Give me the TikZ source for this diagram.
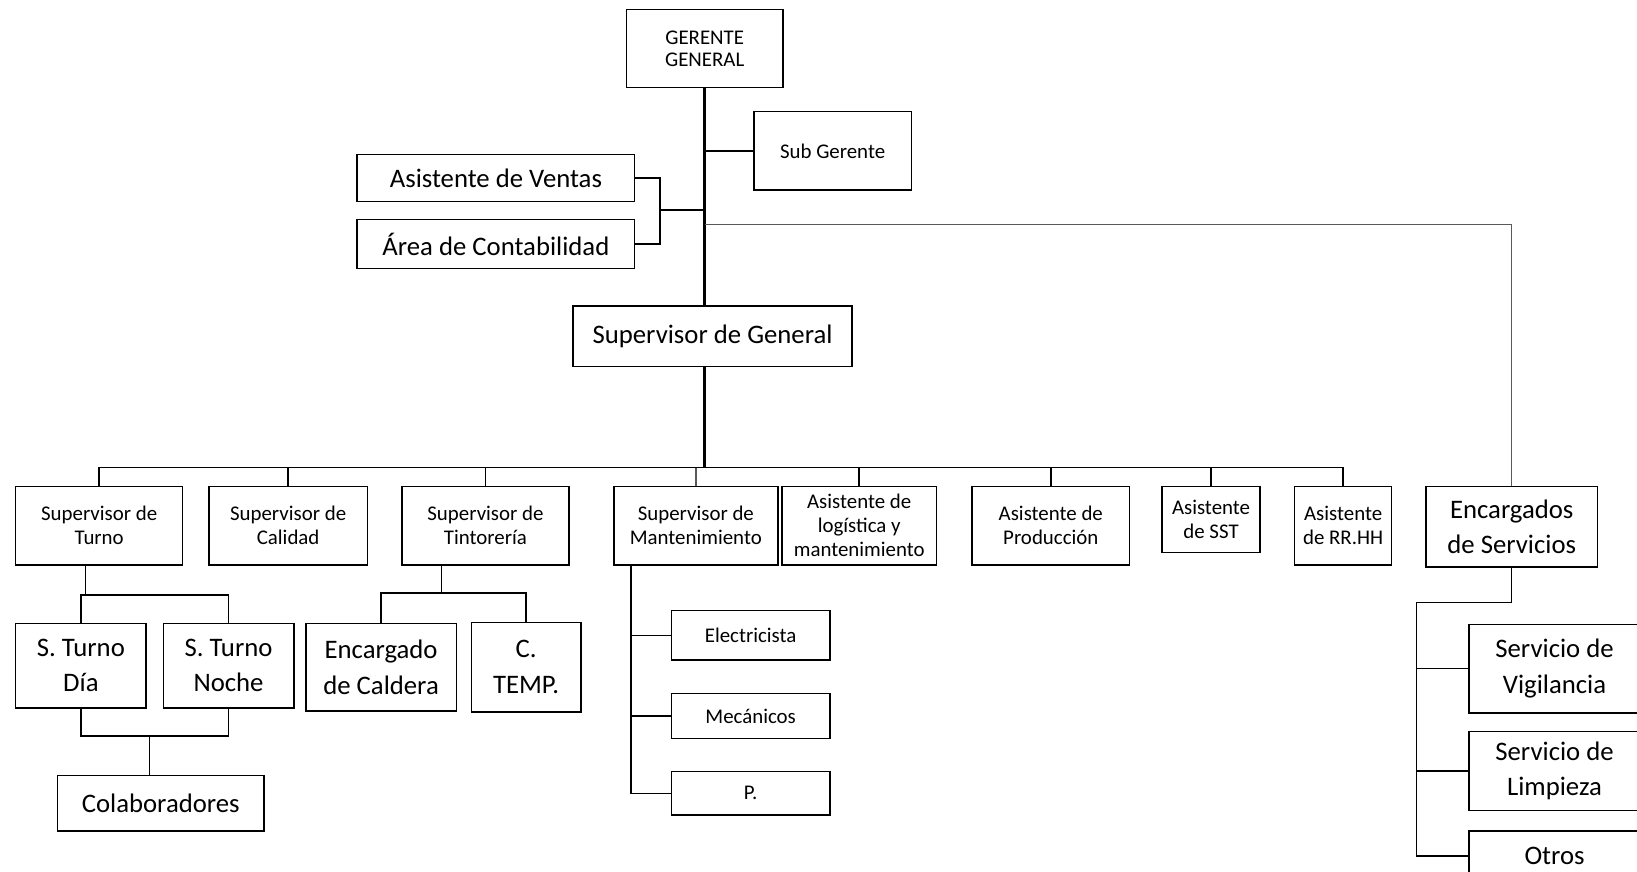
\documentclass[tikz,border=0pt]{standalone}
\usepackage{fontspec}
\setmainfont{Carlito}
\usetikzlibrary{positioning}

\begin{document}
\begin{tikzpicture}[
  x=0.5pt, y=-0.5pt,
  box/.style={rectangle, draw, line width=0.7pt, align=center, inner sep=2pt},
  big/.style={font=\fontsize{12.8}{17}\selectfont},
  small/.style={font=\fontsize{10}{11.5}\selectfont},
  link/.style={draw, line width=0.7pt},
  linkgray/.style={draw=black!65, line width=0.7pt},
  trunk/.style={draw, line width=1.6pt}
]
\useasboundingbox (0,0) rectangle (1568,835);
\clip (0,0) rectangle (1568,835);

% direccion
\node[box, font=\fontsize{10}{10.5}\selectfont, minimum width=75pt, minimum height=37.5pt] (gg) at (675,46.5) {GERENTE\\GENERAL};
\node[box, small, minimum width=75.5pt, minimum height=37.5pt] (sub) at (797.5,144.5) {Sub Gerente};
\node[box, big, minimum width=133pt, minimum height=22.5pt] (ventas) at (475,170.5) {Asistente de Ventas};
\node[box, big, minimum width=133pt, minimum height=23.5pt, below=8pt of ventas] (conta) {Área de Contabilidad};
\node[box, big, minimum width=133.5pt, minimum height=29pt] (supgen) at (682.5,322) {Supervisor de General};

% fila de supervisores y asistentes
\node[box, small, minimum width=80pt, minimum height=37.5pt] (sturno) at (95,503.5) {Supervisor de\\Turno};
\node[box, small, minimum width=76pt, minimum height=37.5pt] (scal) at (276,503.5) {Supervisor de\\Calidad};
\node[box, small, minimum width=80pt, minimum height=37.5pt] (stint) at (465,503.5) {Supervisor de\\Tintorería};
\node[box, small, minimum width=78.5pt, minimum height=37.5pt] (smant) at (666.5,503.5) {Supervisor de\\Mantenimiento};
\node[box, small, minimum width=74pt, minimum height=37.5pt, inner sep=1pt] (alog) at (823,503.5) {Asistente de\\logística y\\mantenimiento};
\node[box, small, minimum width=75.5pt, minimum height=37.5pt] (aprod) at (1006.5,503.5) {Asistente de\\Producción};
\node[box, small, minimum width=47pt, minimum height=31.5pt] (asst) at (1160,497.5) {Asistente\\de SST};
\node[box, small, minimum width=46.5pt, minimum height=37.5pt] (arrhh) at (1286.5,503.5) {Asistente\\de RR.HH};
\node[box, big, minimum width=82pt, minimum height=38.5pt] (encs) at (1448,504.5) {Encargados\\de Servicios};

% turnos
\node[box, big, minimum width=62.5pt, minimum height=40.5pt] (sdia) at (77.5,637.5) {S. Turno\\Día};
\node[box, big, minimum width=62.5pt, minimum height=40.5pt, right=7.5pt of sdia] (snoche) {S. Turno\\Noche};
\node[box, big, minimum width=99pt, minimum height=26.5pt] (colab) at (154,769.5) {Colaboradores};

% tintoreria
\node[box, big, minimum width=72pt, minimum height=42pt] (cald) at (365,639) {Encargado\\de Caldera};
\node[box, big, minimum width=52.5pt, minimum height=43pt, right=6.5pt of cald] (ctemp) {C.\\TEMP.};

% mantenimiento
\node[box, small, minimum width=76pt, minimum height=23.5pt] (elec) at (719,608.5) {Electricista};
\node[box, small, minimum width=76pt, minimum height=21.5pt, below=15.5pt of elec] (meca) {Mecánicos};
\node[box, small, minimum width=76pt, minimum height=21pt, below=15pt of meca] (pbox) {P.};

% servicios
\node[box, big, minimum width=82pt, minimum height=42.5pt] (vig) at (1489,640.5) {Servicio de\\Vigilancia};
\node[box, big, minimum width=82pt, minimum height=38pt, below=8pt of vig] (limp) {Servicio de\\Limpieza};
\node[box, big, minimum width=82pt, minimum height=24pt, below=9pt of limp] (otros) {Otros};

% tronco
\coordinate (bus) at (0,448);
\path[trunk] (gg.south) -- (gg.south |- supgen.north);
\path[trunk] (gg.south |- supgen.south) -- (gg.south |- bus);

% staff
\path[link] (sub.west) -- (sub.west -| gg.south);
\coordinate (vc) at (632,201);
\path[link] (ventas.east) -| (vc) |- (conta.east);
\path[link] (vc) -- (vc -| gg.south);
\coordinate (er) at (0,215);
\path[linkgray] (gg.south |- er) -| (encs.north);

% barra de la fila
\path[link] (sturno.north) -- (sturno.north |- bus) -- (arrhh.north |- bus) -- (arrhh.north);
\foreach \n in {scal,stint,alog,aprod,asst}
  \path[link] (\n.north) -- (\n.north |- bus);
\path[linkgray] (smant.north) -- (smant.north |- bus);

% turnos
\coordinate (tb) at (0,570);
\coordinate (td) at ([xshift=-6.5pt]sturno.south);
\path[link] (td) -- (td |- tb);
\path[link] (sdia.north) -- (sdia.north |- tb) -- (snoche.north |- tb) -- (snoche.north);
\coordinate (cb) at (0,705);
\coordinate (cd) at ([xshift=-5.5pt]colab.north);
\path[link] (sdia.south) -- (sdia.south |- cb) -- (snoche.south |- cb) -- (snoche.south);
\path[link] (cd) -- (cd |- cb);

% tintoreria
\coordinate (kb) at (0,568);
\coordinate (kd) at ([xshift=-21pt]stint.south);
\path[link] (kd) -- (kd |- kb);
\path[link] (cald.north) -- (cald.north |- kb) -- (ctemp.north |- kb) -- (ctemp.north);

% mantenimiento
\coordinate (md) at ([xshift=-31pt]smant.south);
\path[link] (md) |- (pbox.west);
\foreach \n in {elec,meca}
  \path[link] (\n.west) -- (\n.west -| md);

% servicios
\coordinate (sb) at (1357,577);
\path[link] (encs.south) |- (sb) |- (otros.west);
\foreach \n in {vig,limp}
  \path[link] (\n.west) -- (\n.west -| sb);
\end{tikzpicture}
\end{document}
